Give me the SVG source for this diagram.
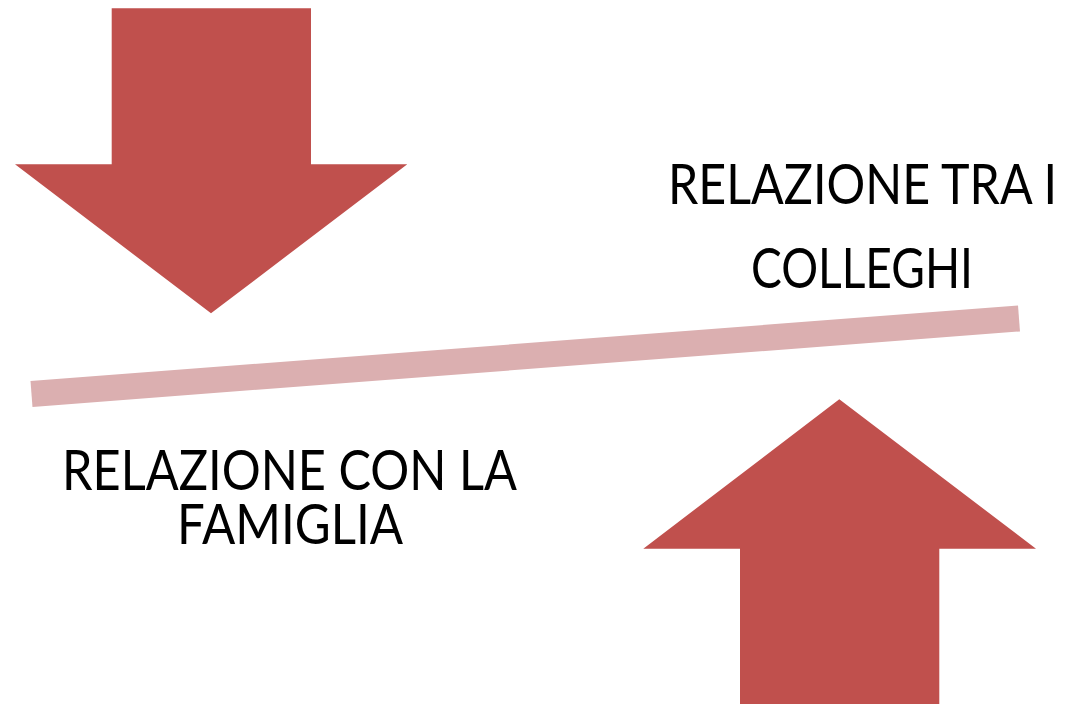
<svg xmlns="http://www.w3.org/2000/svg" width="1071" height="704" viewBox="0 0 1071 704">
<style>
.arrow{fill:#c0504d;}
.bar{stroke:#dbafb0;stroke-width:26;stroke-linecap:butt;fill:none;}
.lbl{font-family:"Lato","Liberation Sans",sans-serif;font-size:57px;fill:#000;text-anchor:middle;}
</style>
<rect width="1071" height="704" fill="#ffffff"/>
<g id="arrow-down">
<polygon class="arrow" points="111.7,8.3 311,8.3 311,164.3 407.3,164.3 211,313.3 15,164.3 111.7,164.3"/>
</g>
<g id="arrow-up">
<polygon class="arrow" points="839.3,399.3 1036,548.7 939.3,548.7 939.3,704 740,704 740,548.7 643.3,548.7"/>
</g>
<g id="connectors">
<line class="bar" x1="31.5" y1="394" x2="1019" y2="318.5"/>
</g>
<g id="label-colleghi">
<text class="lbl" x="862.5" y="204" textLength="389" lengthAdjust="spacingAndGlyphs">RELAZIONE TRA I</text>
<text class="lbl" x="862" y="288" textLength="222" lengthAdjust="spacingAndGlyphs">COLLEGHI</text>
</g>
<g id="label-famiglia">
<text class="lbl" x="289.5" y="490" textLength="455" lengthAdjust="spacingAndGlyphs">RELAZIONE CON LA</text>
<text class="lbl" x="290" y="544" textLength="226" lengthAdjust="spacingAndGlyphs">FAMIGLIA</text>
</g>
</svg>
